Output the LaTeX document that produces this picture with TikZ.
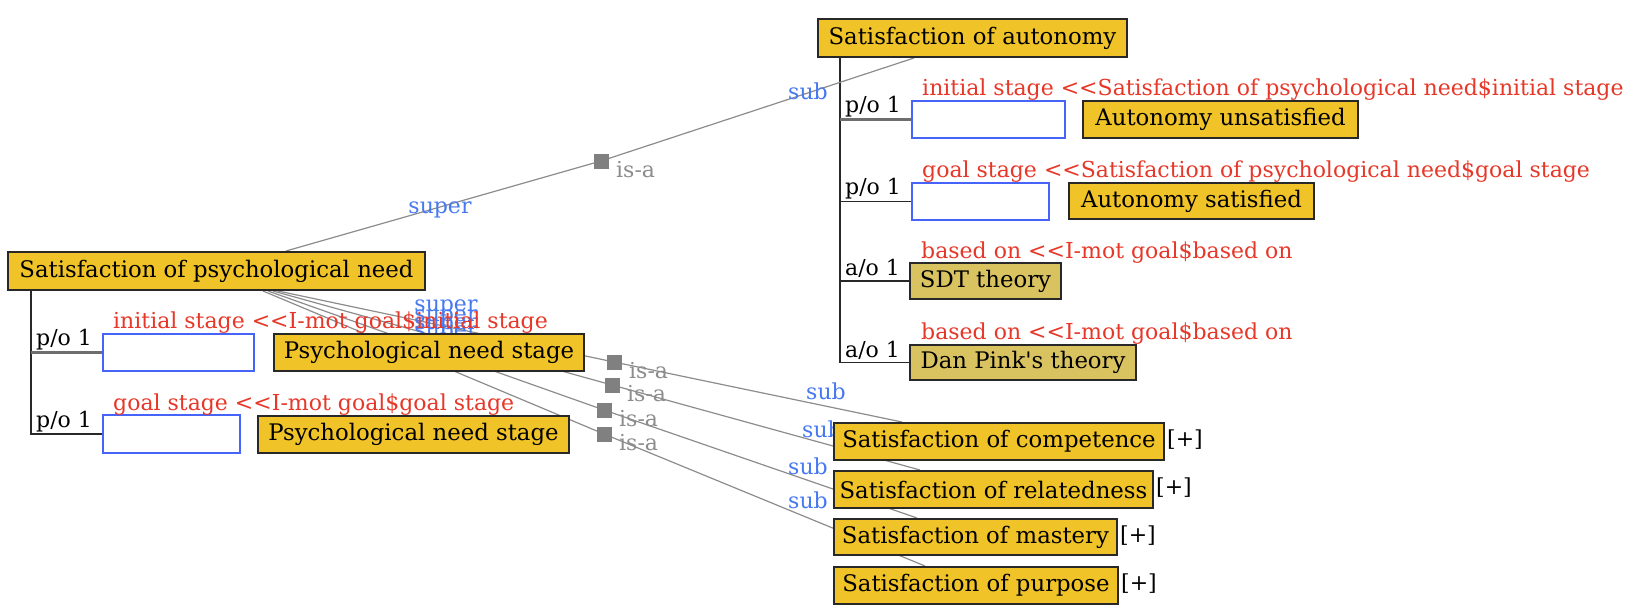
\documentclass[tikz,border=0pt]{standalone}
\usepackage{fontspec}
\newfontfamily\df{DejaVu Serif}
\pgfdeclarelayer{background}
\pgfsetlayers{background,main}
\definecolor{yel}{RGB}{240,195,40}
\definecolor{tanc}{RGB}{217,194,96}
\definecolor{bord}{RGB}{40,40,40}
\definecolor{blueboxc}{RGB}{70,100,250}
\definecolor{redc}{RGB}{230,55,40}
\definecolor{bluec}{RGB}{70,120,240}
\definecolor{grayc}{RGB}{140,140,140}
\definecolor{sqc}{RGB}{128,128,128}
\definecolor{treec}{RGB}{40,40,40}
\definecolor{treeg}{RGB}{110,110,110}
\tikzset{
  every node/.style={font=\df\fontsize{22}{26}\selectfont},
  box/.style={draw=bord, line width=2pt, fill=yel, anchor=north west, inner sep=0pt, text=black, font=\df\fontsize{22.8}{27}\selectfont},
  tanbox/.style={box, fill=tanc},
  emptybox/.style={draw=blueboxc, line width=2pt, fill=white, anchor=north west, inner sep=0pt},
  redlab/.style={text=redc, anchor=base west, inner sep=0pt},
  bluelab/.style={text=bluec, inner sep=0pt},
  isalab/.style={text=grayc, anchor=west, inner sep=0pt},
  sq/.style={fill=sqc, minimum size=15pt, inner sep=0pt},
  link/.style={draw=grayc, line width=1.2pt},
  tree/.style={draw=treec, line width=1.6pt},
  treegray/.style={draw=treeg, line width=2.2pt},
  plab/.style={anchor=base west, inner sep=0pt, text=black},
  plus/.style={anchor=west, inner sep=0pt, text=black}
}
\begin{document}
\begin{tikzpicture}[x=1pt,y=-1pt]
\useasboundingbox (0,0) rectangle (1644,613);

% ---- boxes ----
\node[box, minimum width=309pt, minimum height=38pt] (aut) at (817,18) {Satisfaction of autonomy};
\node[emptybox, minimum width=153pt, minimum height=37pt] (b1) at (911,100) {};
\node[box, minimum width=275pt, minimum height=37pt] (aunsat) at (1082,100) {Autonomy unsatisfied};
\node[emptybox, minimum width=137pt, minimum height=37pt] (b2) at (911,182) {};
\node[box, minimum width=245pt, minimum height=36pt] (asat) at (1068,182) {Autonomy satisfied};
\node[tanbox, minimum width=151pt, minimum height=36pt] (sdt) at (909,262) {SDT theory};
\node[tanbox, minimum width=226pt, minimum height=35pt] (dp) at (909,344) {Dan Pink's theory};

\node[box, minimum width=417pt, minimum height=38pt] (pn) at (7,251) {Satisfaction of psychological need};
\node[emptybox, minimum width=151pt, minimum height=37pt] (bb1) at (102,333) {};
\node[emptybox, minimum width=137pt, minimum height=38pt] (bb2) at (102,414) {};

% red role labels
\node[redlab] (r1) at (922,95) {initial stage <<Satisfaction of psychological need\$initial stage};
\node[redlab] (r2) at (922,177) {goal stage <<Satisfaction of psychological need\$goal stage};
\node[redlab] (r3) at (921,258) {based on <<I-mot goal\$based on};
\node[redlab] (r4) at (921,339) {based on <<I-mot goal\$based on};
\node[redlab] (r5) at (113,328) {initial stage <<I-mot goal\$initial stage};
\node[redlab] (r6) at (113,410) {goal stage <<I-mot goal\$goal stage};

\node[box, minimum width=310pt, minimum height=37pt] (pns1) at (273,333) {Psychological need stage};
\node[box, minimum width=311pt, minimum height=37pt] (pns2) at (257,415) {Psychological need stage};

\node[box, minimum width=330pt, minimum height=37pt] (comp) at (833,422) {Satisfaction of competence};
\node[box, minimum width=319pt, minimum height=37pt] (rel) at (833,470) {Satisfaction of relatedness};
\node[box, minimum width=283pt, minimum height=36pt] (mast) at (833,518) {Satisfaction of mastery};
\node[box, minimum width=284pt, minimum height=37pt] (purp) at (833,566) {Satisfaction of purpose};
\node[plus] (pl1) at (1167,440) {[+]};
\node[plus] (pl2) at (1156,488) {[+]};
\node[plus] (pl3) at (1120,536) {[+]};
\node[plus] (pl4) at (1121,584) {[+]};

% is-a squares
\node[sq] (q0) at (601,161) {};
\node[sq] (q1) at (614,362) {};
\node[sq] (q2) at (612,385) {};
\node[sq] (q3) at (604,410) {};
\node[sq] (q4) at (604,434) {};
\node[isalab] (i0) at (616,170) {is-a};
\node[isalab] (i1) at (629,371) {is-a};
\node[isalab] (i2) at (627,394) {is-a};
\node[isalab] (i3) at (619,419) {is-a};
\node[isalab] (i4) at (619,443) {is-a};

% tree labels
\node[plab] (p1) at (845,112) {p/o 1};
\node[plab] (p2) at (845,194) {p/o 1};
\node[plab] (p3) at (845,275) {a/o 1};
\node[plab] (p4) at (845,357) {a/o 1};
\node[plab] (p5) at (36,345) {p/o 1};
\node[plab] (p6) at (36,427) {p/o 1};

\begin{pgfonlayer}{background}
  % trees
  \coordinate (av) at ([xshift=23pt]aut.south west);
  \draw[tree] (av) |- (dp.west);
  \draw[treegray] (av |- b1.west) -- (b1.west);
  \draw[tree] (av |- b2.west) -- (b2.west);
  \draw[tree] (av |- sdt.west) -- (sdt.west);
  \coordinate (pv) at ([xshift=24pt]pn.south west);
  \draw[tree] (pv) |- (bb2.west);
  \draw[treegray] (pv |- bb1.west) -- (bb1.west);
  % is-a links
  \draw[link] ([xshift=279pt]pn.north west) -- (q0.center) -- ([xshift=97pt]aut.south west);
  \draw[link] ([xshift=271pt]pn.south west) -- (q1.center) -- ([xshift=69pt]comp.north west);
  \draw[link] ([xshift=266pt]pn.south west) -- (q2.center) -- ([xshift=87pt]rel.north west);
  \draw[link] ([xshift=261pt]pn.south west) -- (q3.center) -- ([xshift=84pt]mast.north west);
  \draw[link] ([xshift=256pt]pn.south west) -- (q4.center) -- ([xshift=92pt]purp.north west);
  % role labels
  \node[bluelab] (s0) at (440,210) {super};
  \node[bluelab] (u0) at (808,91) {sub};
  \node[bluelab] (s1) at (446,308) {super};
  \node[bluelab] (s2) at (446,318) {super};
  \node[bluelab] (s3) at (446,326) {super};
  \node[bluelab] (s4) at (446,334) {super};
  \node[bluelab] (u1) at (826,391) {sub};
  \node[bluelab] (u2) at (822,429) {sub};
  \node[bluelab] (u3) at (808,466) {sub};
  \node[bluelab] (u4) at (808,500) {sub};
\end{pgfonlayer}
\end{tikzpicture}
\end{document}
